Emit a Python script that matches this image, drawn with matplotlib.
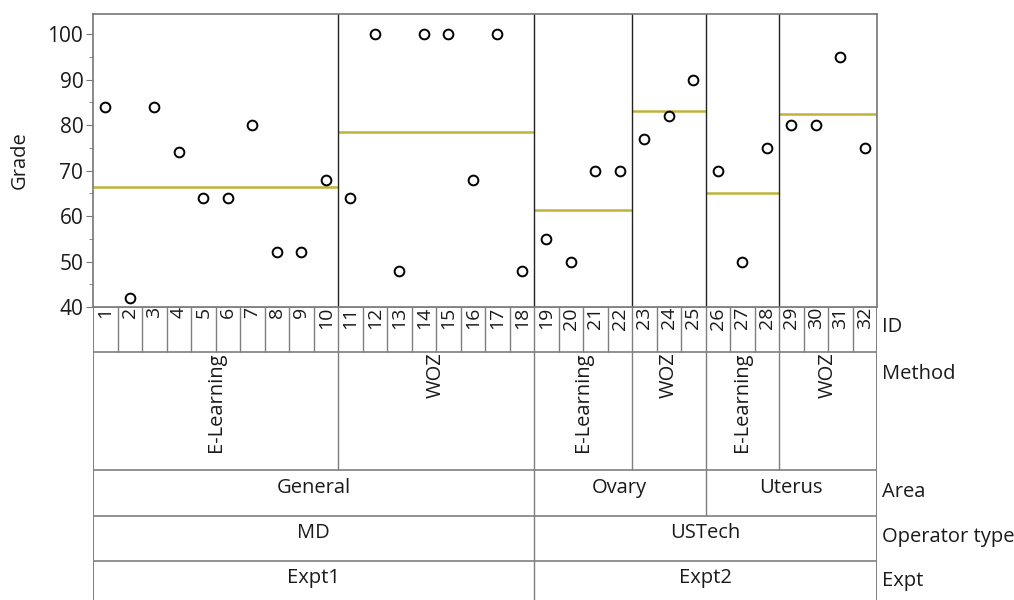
import matplotlib
matplotlib.use("Agg")
import matplotlib.pyplot as plt
import numpy as np

plt.rcParams['font.family'] = ['Open Sans', 'DejaVu Sans']

# data
ids = list(range(1, 33))
grade = [84, 42, 84, 74, 64, 64, 80, 52, 52, 68,
         64, 100, 48, 100, 100, 68, 100, 48,
         55, 50, 70, 70,
         77, 82, 90,
         70, 50, 75,
         80, 80, 95, 75]
method_names = ["E-Learning", "WOZ", "E-Learning", "WOZ", "E-Learning", "WOZ"]
method_sizes = [10, 8, 4, 3, 3, 4]
area_names = ["General", "Ovary", "Uterus"]
area_sizes = [18, 7, 7]
operator_names = ["MD", "USTech"]
operator_sizes = [18, 14]
expt_names = ["Expt1", "Expt2"]
expt_sizes = [18, 14]

W, H = 1014, 600
fig = plt.figure(figsize=(W / 100, H / 100), dpi=100)

# main plot: pixels 93..877 x 14..307
ax = fig.add_axes([93 / W, (H - 307) / H, 784 / W, 293 / H])
x = np.arange(len(ids)) + 0.5
ax.plot(x, grade, 'o', mfc='none', mec='black', mew=1.4, ms=7, zorder=3)

edges = np.concatenate([[0], np.cumsum(method_sizes)])
g = np.array(grade)
for a, b in zip(edges[:-1], edges[1:]):
    ax.hlines(g[a:b].mean(), a, b, color='#bfb43a', lw=1.8, zorder=2)
for e in edges[1:-1]:
    ax.axvline(e, color='#222222', lw=1.0)

ax.set_xlim(0, len(ids))
ax.set_ylim(40, 104.4)
ax.set_yticks(np.arange(40, 101, 10))
ax.set_yticks(np.arange(45, 100, 10), minor=True)
ax.set_xticks([])
ax.tick_params(axis='y', labelsize=15, length=5, color='#777777', labelcolor='#1a1a1a', pad=2)
ax.tick_params(axis='y', which='minor', length=3, color='#777777')
for s in ax.spines.values():
    s.set_color('#777777')
    s.set_linewidth(1.2)

fig.text(20 / W, (H - 160) / H, "Grade", rotation=90, ha='center', va='center',
         fontsize=14.5, color='#1a1a1a')

# grouping table below the plot
tab = fig.add_axes([93 / W, 0, 784 / W, 293 / H])
tab.set_xlim(0, len(ids))
tab.set_ylim(293, 0)
tab.axis('off')

rows = [0, 45, 163, 209, 254, 293]
lc = '#7f7f7f'
for r in rows[:-1]:
    tab.hlines(r, 0, len(ids), color=lc, lw=1.2)
tab.vlines([0, len(ids)], 0, 293, color=lc, lw=1.4)

levels = [([1] * len(ids), rows[0], rows[1]),
          (method_sizes, rows[1], rows[2]),
          (area_sizes, rows[2], rows[3]),
          (operator_sizes, rows[3], rows[4]),
          (expt_sizes, rows[4], rows[5])]
for sizes, top, bot in levels:
    b = np.cumsum(sizes)[:-1]
    tab.vlines(b, top, bot, color=lc, lw=1.0)

for xi, i in zip(x, ids):
    tab.text(xi, 0, str(i), rotation=90, ha='center', va='top', fontsize=14, color='#1a1a1a')

def centers(sizes):
    e = np.concatenate([[0], np.cumsum(sizes)])
    return (e[:-1] + e[1:]) / 2

for cx, name in zip(centers(method_sizes), method_names):
    tab.text(cx, 45, name, rotation=90, ha='center', va='top', fontsize=14.5, color='#1a1a1a')
for names, sizes, yc in [(area_names, area_sizes, 181),
                         (operator_names, operator_sizes, 226),
                         (expt_names, expt_sizes, 271)]:
    for cx, name in zip(centers(sizes), names):
        tab.text(cx, yc, name, ha='center', va='center', fontsize=14.5, color='#1a1a1a')

for label, yp in [("ID", 20), ("Method", 67), ("Area", 185), ("Operator type", 230), ("Expt", 274)]:
    tab.text(len(ids) + 0.2, yp, label, ha='left', va='center', fontsize=14.5,
             color='#1a1a1a', clip_on=False)

fig.savefig("out.png", dpi=100)
